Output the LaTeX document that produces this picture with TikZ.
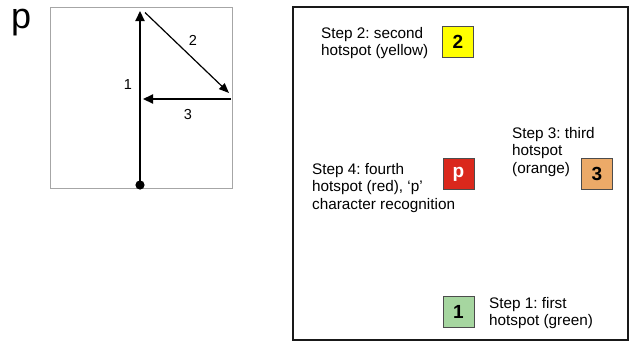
\documentclass[tikz,border=0pt]{standalone}
\usepackage{fontspec}
\setmainfont{Liberation Sans}
\usetikzlibrary{arrows.meta}
\frenchspacing
\definecolor{hsred}{RGB}{218,40,28}
\definecolor{hsorange}{RGB}{236,170,104}
\definecolor{hsgreen}{RGB}{166,214,160}
\definecolor{hsyellow}{RGB}{255,255,0}
\begin{document}
\begin{tikzpicture}[x=1pt,y=-1pt,
  hotspot/.style={draw=black!70,line width=0.9pt,minimum size=31pt,inner sep=0pt,
    font=\fontsize{19}{19}\selectfont\bfseries},
  steptext/.style={anchor=west,align=left,inner sep=0pt,
    font=\fontsize{15.3}{17.5}\selectfont},
  pathnum/.style={font=\fontsize{14.5}{14.5}\selectfont,inner sep=0pt},
  strokearrow/.style={-{Triangle[length=10pt,width=9pt]},line width=2.2pt},
  thinarrow/.style={-{Triangle[length=10pt,width=8pt]},line width=1.2pt}]
\useasboundingbox (0,0) rectangle (629,343);

% stroke-path panel for the letter p
\node[anchor=base west,inner sep=0pt,font=\fontsize{36}{36}\selectfont] (letter) at (11,28) {p};
\draw[black!35,line width=1pt] (50.5,7) rectangle (232.5,188);
\coordinate (start) at (140,185);
\coordinate (top) at (140,11);
\coordinate (topright) at (145,12.5);
\coordinate (corner) at (229,93);
\coordinate (midright) at (231,99);
\coordinate (midleft) at (143,99);
\fill (start) circle (4.6);
\draw[strokearrow] (start) -- (top);
\draw[thinarrow] (topright) -- (corner);
\draw[strokearrow] (midright) -- (midleft);
\node[pathnum] (n1) at (128,85) {1};
\node[pathnum] (n2) at (193,40) {2};
\node[pathnum] (n3) at (188,115) {3};

% hotspot panel
\draw[black!90,line width=2pt] (293,7) rectangle (628,340);
\node[hotspot,fill=hsyellow] (h2) at (458,41.5) {2};
\node[hotspot,fill=hsred,text=white] (h4) at (458.5,174) {p};
\node[hotspot,fill=hsorange] (h3) at (597,174) {3};
\node[hotspot,fill=hsgreen] (h1) at (458.5,311.5) {1};

\node[steptext] (t2) at (321,43) {Step 2: second\\hotspot (yellow)};
\node[steptext] (t4) at (312,188) {Step 4: fourth\\hotspot (red), ‘p’\\character recognition};
\node[steptext] (t3) at (512,152) {Step 3: third\\hotspot\\(orange)};
\node[steptext] (t1) at (489,313) {Step 1: first\\hotspot (green)};
\end{tikzpicture}
\end{document}
